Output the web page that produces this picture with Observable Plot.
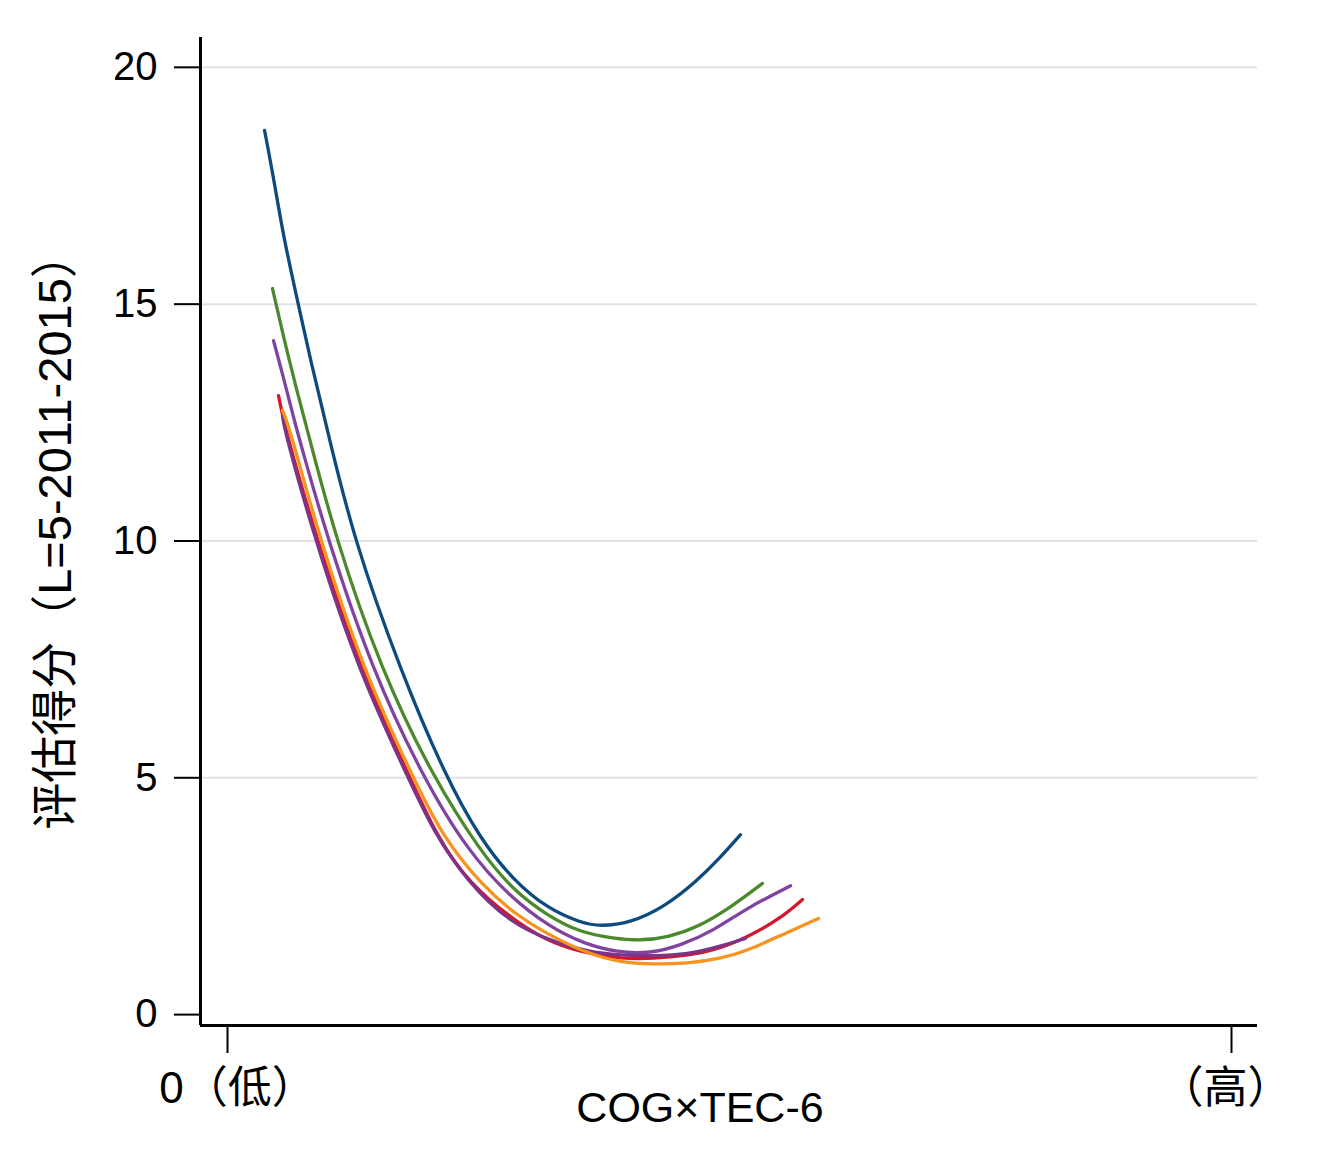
<!DOCTYPE html>
<html>
<head>
<meta charset="utf-8">
<script src="https://cdn.jsdelivr.net/npm/d3@7"></script>
<script src="https://cdn.jsdelivr.net/npm/@observablehq/plot@0.6"></script>
<style>
  html, body { margin: 0; padding: 0; background: #fff; }
  svg { display: block; }
</style>
</head>
<body>
<div id="chart"></div>
<script>
// Axis texts and ticks
const xLabel = "COG×TEC-6";
const yLabel = "评估得分（L=5-2011-2015）";
const xTicks = [0, 100];
const xTickLabels = ["0（低）", "（高）"];
const yTicks = [0, 5, 10, 15, 20];
const gridValues = [5, 10, 15, 20];
const xDomain = [-2.69, 102.59];
const yDomain = [-0.23, 20.63];

// Fitted score curves, one pair of arrays per series
const blueX = [3.69, 4.58, 5.58, 6.97, 8.27, 9.96, 12.55, 17.23, 21.71, 25.20, 28.49, 31.87, 35.16, 37.15, 40.14, 43.43, 46.81, 49.10, 51.10];
const blueY = [18.67, 17.68, 16.41, 15.08, 13.81, 12.33, 10.05, 7.26, 5.03, 3.70, 2.83, 2.24, 1.94, 1.86, 1.94, 2.26, 2.83, 3.32, 3.80];

const greenX = [4.48, 5.58, 6.97, 7.97, 10.76, 15.34, 20.42, 25.20, 28.49, 31.87, 35.16, 38.45, 41.14, 43.82, 46.81, 50.10, 53.29];
const greenY = [15.33, 14.30, 13.12, 12.33, 10.05, 7.26, 5.03, 3.44, 2.62, 2.09, 1.73, 1.61, 1.56, 1.63, 1.84, 2.26, 2.77];

const redX = [5.08, 5.78, 8.86, 13.25, 18.13, 20.72, 23.90, 29.18, 32.47, 35.86, 39.14, 42.43, 45.82, 48.41, 51.79, 55.08, 57.27];
const redY = [13.07, 12.33, 10.05, 7.26, 5.03, 3.82, 2.79, 1.88, 1.50, 1.29, 1.18, 1.18, 1.25, 1.35, 1.63, 2.03, 2.43];

const plumX = [5.48, 5.68, 8.67, 13.05, 17.93, 20.52, 23.80, 28.19, 32.47, 35.86, 39.14, 42.43, 45.82, 49.10, 51.59];
const plumY = [12.65, 12.33, 10.05, 7.26, 5.03, 3.86, 2.83, 1.92, 1.54, 1.33, 1.25, 1.24, 1.27, 1.44, 1.61];

const orangeX = [5.48, 6.27, 9.16, 13.55, 18.43, 21.22, 25.50, 28.98, 32.47, 35.86, 39.14, 42.43, 45.82, 49.10, 51.79, 55.08, 58.86];
const orangeY = [12.76, 12.33, 10.05, 7.26, 5.03, 3.82, 2.68, 2.07, 1.63, 1.29, 1.10, 1.06, 1.08, 1.18, 1.35, 1.67, 2.03];

const purpleX = [4.58, 5.58, 6.57, 7.47, 9.96, 14.44, 19.42, 23.90, 28.19, 32.17, 35.46, 38.84, 42.13, 45.12, 48.41, 51.79, 56.08];
const purpleY = [14.23, 13.45, 12.61, 11.91, 10.05, 7.26, 5.03, 3.46, 2.47, 1.84, 1.50, 1.31, 1.29, 1.46, 1.77, 2.26, 2.72];

// Series in drawing order, with their stroke colours
const seriesNames = ["s1", "s2", "s3", "s4", "s5", "s6"];
const seriesX = [blueX, greenX, redX, plumX, orangeX, purpleX];
const seriesY = [blueY, greenY, redY, plumY, orangeY, purpleY];
const seriesColors = ["#0d4a7e", "#4b8a2c", "#d5172b", "#7c3388", "#f7931e", "#8043a0"];

const rows = seriesNames.flatMap((name, i) =>
  seriesX[i].map((x, j) => ({series: name, x, y: seriesY[i][j]}))
);

const fontFamily = "'Liberation Sans', Arial, 'Noto Sans CJK SC', sans-serif";

// Each end of the x axis carries its own label
const xAxisEnd = i => Plot.axisX({
  ticks: [xTicks[i]], tickSize: 28, tickPadding: 18, strokeWidth: 2,
  fontSize: 44, label: null,
  tickFormat: () => xTickLabels[i]
});

const chart = Plot.plot({
  width: 1339,
  height: 1175,
  marginLeft: 200,
  marginRight: 82,
  marginTop: 37,
  marginBottom: 150,
  style: {fontFamily, color: "#000", background: "#fff", overflow: "visible"},
  x: {domain: xDomain},
  y: {domain: yDomain},
  color: {domain: seriesNames, range: seriesColors},
  marks: [
    Plot.ruleY(gridValues, {stroke: "#dfe3e9", strokeWidth: 2}),
    Plot.line(rows, {
      x: "x", y: "y", z: "series", stroke: "series",
      strokeWidth: 3.3, curve: "basis", strokeLinecap: "round"
    }),
    Plot.axisY({
      ticks: yTicks, tickSize: 26, tickPadding: 17, strokeWidth: 2,
      fontSize: 40, label: null, tickFormat: d => String(d)
    }),
    xAxisEnd(0),
    xAxisEnd(1),
    Plot.ruleX([xDomain[0]], {stroke: "#000", strokeWidth: 3}),
    Plot.ruleY([yDomain[0]], {stroke: "#000", strokeWidth: 3}),
    Plot.text([xLabel], {
      frameAnchor: "bottom", lineAnchor: "middle", textAnchor: "middle",
      dx: -29, dy: 83, fontSize: 43, fill: "#000"
    }),
    Plot.text([yLabel], {
      frameAnchor: "left", lineAnchor: "middle", textAnchor: "middle",
      rotate: -90, dx: -145, dy: -1, fontSize: 47, fill: "#000"
    })
  ]
});

// shift the end labels sideways; the tick marks stay on their values
const tickLabels = chart.querySelectorAll("g[aria-label='x-axis tick label']");
const labelShift = [10, -6];
tickLabels.forEach((g, i) => {
  g.setAttribute("transform", (g.getAttribute("transform") || "") + ` translate(${labelShift[i] || 0},0)`);
});

document.getElementById("chart").appendChild(chart);
</script>
</body>
</html>
